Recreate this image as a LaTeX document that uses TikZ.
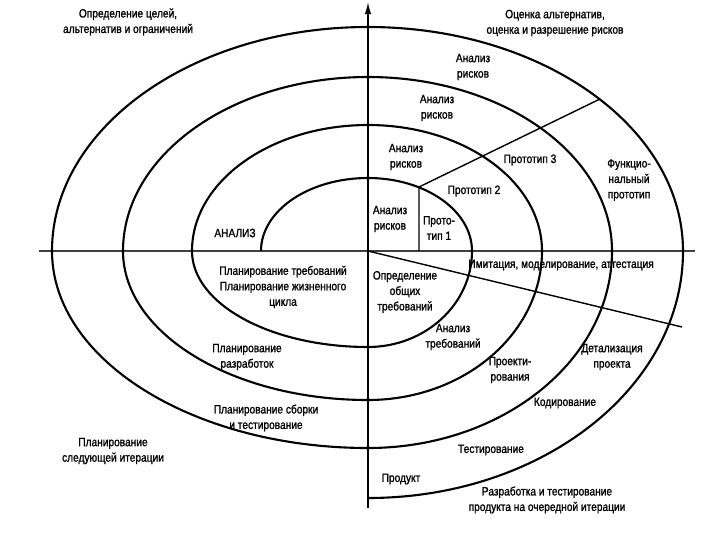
\documentclass[tikz,border=0pt]{standalone}
\usepackage{fontspec}
\setmainfont{Liberation Sans}[FakeStretch=0.84, FakeBold=1.2]
\usetikzlibrary{arrows.meta}

\begin{document}
\begin{tikzpicture}[x=0.025cm, y=0.025cm,
    lbl/.style={inner sep=1pt, align=center, font=\fontsize{8.6}{11}\selectfont},
    spiral/.style={line width=1.5pt, line join=round},
    axis/.style={line width=1pt, color=black!75},
    ray/.style={line width=1pt}]
  \useasboundingbox (-368,-289) rectangle (352,251);

  % axes
  \coordinate (o) at (0,0);
  \coordinate (xl) at (-329,0);
  \coordinate (xr) at (327,0);
  \coordinate (yb) at (0,-257);
  \coordinate (yt) at (0,249);
  \draw[axis] (xl) -- (xr);
  \draw[line width=1pt, -{Latex[length=3mm,width=1.6mm]}] (yb) -- (yt);

  % spiral
  \draw[spiral] (-107,0)
    arc[start angle=180, end angle=90, x radius=107, y radius=73]
    arc[start angle=90, end angle=0, x radius=104, y radius=73]
    arc[start angle=0, end angle=-90, x radius=104, y radius=96]
    arc[start angle=-90, end angle=-180, x radius=176, y radius=96]
    arc[start angle=180, end angle=90, x radius=176, y radius=126]
    arc[start angle=90, end angle=0, x radius=174, y radius=126]
    arc[start angle=0, end angle=-90, x radius=174, y radius=149]
    arc[start angle=-90, end angle=-180, x radius=245, y radius=149]
    arc[start angle=180, end angle=90, x radius=245, y radius=174]
    arc[start angle=90, end angle=0, x radius=244, y radius=174]
    arc[start angle=0, end angle=-90, x radius=244, y radius=197]
    arc[start angle=-90, end angle=-180, x radius=316, y radius=197]
    arc[start angle=180, end angle=90, x radius=316, y radius=224]
    arc[start angle=90, end angle=0, x radius=315, y radius=224]
    arc[start angle=0, end angle=-90, x radius=315, y radius=247];

  % prototype and verification lines
  \coordinate (pb) at (51,0);
  \coordinate (pt) at (51,64);
  \coordinate (pe) at (232,152);
  \coordinate (ve) at (314,-76);
  \draw[ray] (pb) -- (pt) -- (pe);
  \draw[ray] (o) -- (ve);

  % quadrant titles
  \node[lbl] (goals) at (-240,229) {Определение целей,\\альтернатив и ограничений};
  \node[lbl] (evaluate) at (187,228) {Оценка альтернатив,\\оценка и разрешение рисков};
  \node[lbl] (nextiter) at (-255,-200) {Планирование\\следующей итерации};
  \node[lbl] (devtest) at (179,-249) {Разработка и тестирование\\продукта на очередной итерации};

  % upper right
  \node[lbl] (risk4) at (105,184) {Анализ\\рисков};
  \node[lbl] (risk3) at (69,143) {Анализ\\рисков};
  \node[lbl] (risk2) at (38,94) {Анализ\\рисков};
  \node[lbl] (risk1) at (22,32) {Анализ\\рисков};
  \node[lbl] (proto1) at (71,23) {Прото-\\тип 1};
  \node[lbl] (proto2) at (106,60) {Прототип 2};
  \node[lbl] (proto3) at (162,91) {Прототип 3};
  \node[lbl] (funcproto) at (261,71) {Функцио-\\нальный\\прототип};

  % left
  \node[lbl] (analysis) at (-133,18) {АНАЛИЗ};
  \node[lbl] (reqplan) at (-85,-36) {Планирование требований\\Планирование жизненного\\цикла};
  \node[lbl] (devplan) at (-121,-106) {Планирование\\разработок};
  \node[lbl] (intplan) at (-102,-167) {Планирование сборки\\и тестирование};

  % lower right
  \node[lbl] (genreq) at (37,-41) {Определение\\общих\\требований};
  \node[lbl] (simul) at (193,-14) {Имитация, моделирование, аттестация};
  \node[lbl] (reqanal) at (85,-86) {Анализ\\требований};
  \node[lbl] (design) at (142,-119) {Проекти-\\рования};
  \node[lbl] (detail) at (244,-106) {Детализация\\проекта};
  \node[lbl] (coding) at (197,-152) {Кодирование};
  \node[lbl] (testing) at (123,-199) {Тестирование};
  \node[lbl] (product) at (33,-228) {Продукт};
\end{tikzpicture}
\end{document}
